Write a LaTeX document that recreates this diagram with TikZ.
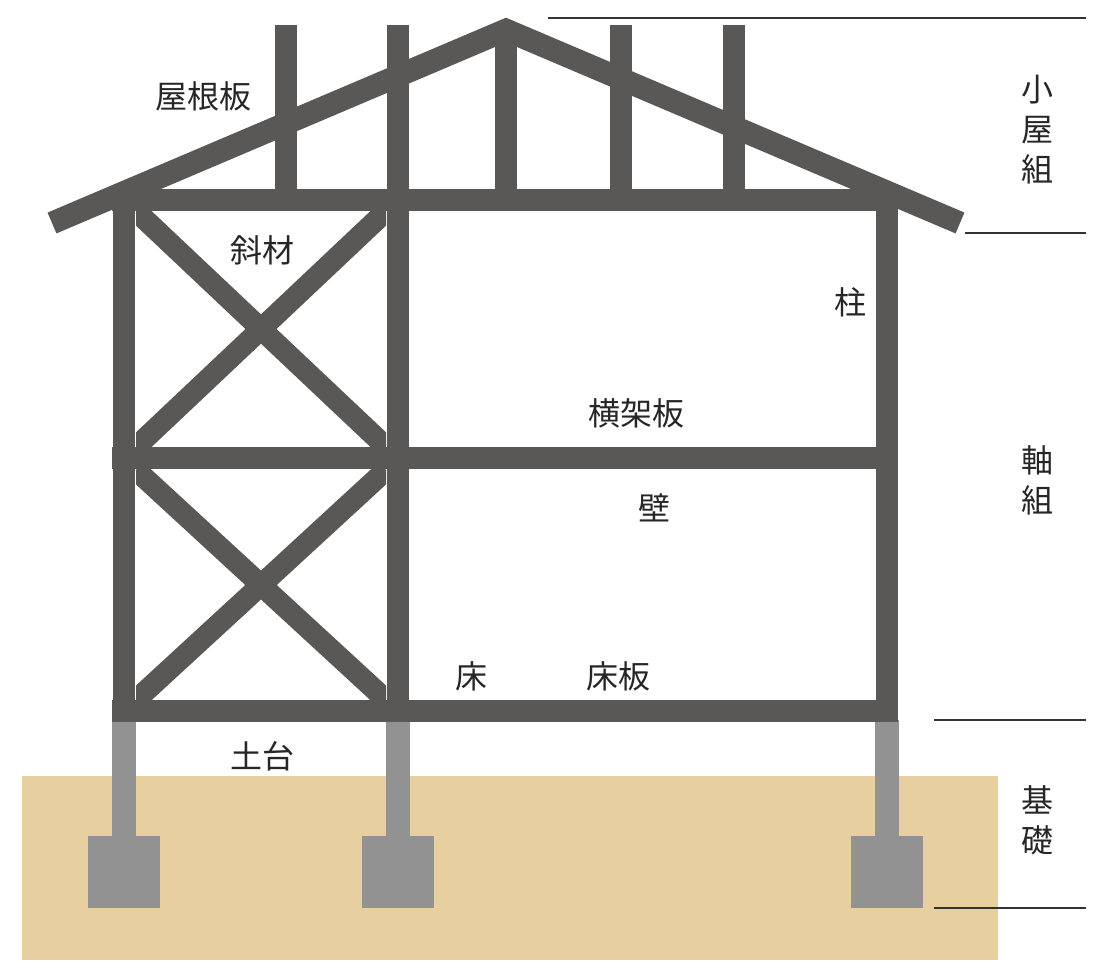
\documentclass[tikz,border=0pt]{standalone}
\usepackage{fontspec}
\newfontfamily\jpfont{Noto Sans CJK JP}
\definecolor{frame}{HTML}{595856}
\definecolor{pier}{HTML}{929292}
\definecolor{soil}{HTML}{E8CFA0}
\tikzset{
  member/.style={draw=frame,line width=17pt,line cap=butt},
  brace/.style={draw=frame,line width=16pt,line cap=butt},
  lbl/.style={font=\jpfont\fontsize{24}{29}\selectfont,text=black!85,inner sep=0pt},
  vlbl/.style={lbl,align=center,font=\jpfont\fontsize{24}{30}\selectfont},
  level/.style={draw=black!80,line width=0.8pt}
}
\begin{document}
\begin{tikzpicture}[x=0.75pt,y=-0.75pt]
\useasboundingbox (0,0) rectangle (1109,978);
% ground and foundation
\fill[soil] (22,776) rectangle (998,960);
\foreach \X in {124,398,887}
  {\fill[pier] (\X-12,720) rectangle (\X+12,840);
   \fill[pier] (\X-36,836) rectangle (\X+36,908);}
% braces
\begin{scope}
\clip (136,211) rectangle (386,700);
\foreach \T/\B in {211/447,470/700}
  {\draw[brace] (136,\T) -- (386,\B);
   \draw[brace] (386,\T) -- (136,\B);}
\end{scope}
% truss posts
\foreach \X in {286,398,506,621,734}
  \draw[member] (\X,200) -- (\X,25);
% walls and beams
\foreach \X/\T in {124/200,398/200,887/200}
  \draw[member] (\X,\T) -- (\X,722);
\foreach \Y in {200,458,711}
  \draw[member] (112,\Y) -- (898,\Y);
% roof
\begin{scope}
\clip (0,0) -- (1109,0) -- (1109,978) -- (0,978) -- cycle;
\draw[member,line join=miter] (52,223) -- (506,30) -- (960,223);
\end{scope}
% level lines
\draw[level] (548,18) -- (1086,18);
\draw[level] (965,233) -- (1086,233);
\draw[level] (934,720) -- (1086,720);
\draw[level] (934,908) -- (1086,908);
% labels
\node[lbl] (roofboard) at (203,96) {屋根板};
\node[lbl] (diag) at (262,250) {斜材};
\node[lbl] (column) at (850,302) {柱};
\node[lbl] (beam) at (636,413) {横架板};
\node[lbl] (wall) at (654,508) {壁};
\node[lbl] (floor) at (471,676) {床};
\node[lbl] (floorboard) at (618,676) {床板};
\node[lbl] (sill) at (262,756) {土台};
\node[vlbl] (koyagumi) at (1037,130) {小\\屋\\組};
\node[vlbl] (jikugumi) at (1037,480) {軸\\組};
\node[vlbl] (kiso) at (1037,820) {基\\礎};
\end{tikzpicture}
\end{document}
